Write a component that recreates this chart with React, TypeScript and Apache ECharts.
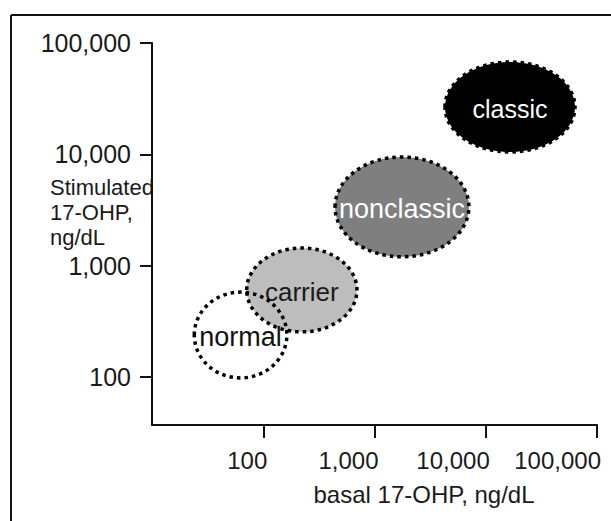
import React, { useEffect, useRef } from 'react';
import * as echarts from 'echarts';

// Regions (ng/dL): basal (x) range and stimulated (y) range of each ellipse
const regionNames = ['classic', 'nonclassic', 'carrier', 'normal'];
const basalLow = [4300, 442, 71, 24];
const basalHigh = [63400, 7060, 695, 163];
const stimLow = [10500, 1200, 254, 98];
const stimHigh = [67500, 9460, 1440, 578];

const xTickValues = [100, 1000, 10000, 100000];
const yTickValues = [100, 1000, 10000, 100000];
const xMin = 10;
const xMax = 100000;
const yMin = 37;
const yMax = 100000;

const xTitle = 'basal 17-OHP, ng/dL';
const yTitle = 'Stimulated\n17-OHP,\nng/dL';

const FONT = '"Liberation Sans", Arial, Helvetica, sans-serif';
const regionStyle: Record<string, { fill: string; text: string; size: number }> = {
  classic: { fill: '#000000', text: '#ffffff', size: 25 },
  nonclassic: { fill: '#7f7f7f', text: '#ffffff', size: 27 },
  carrier: { fill: '#bdbdbd', text: '#1a1a1a', size: 26 },
  normal: { fill: 'none', text: '#111111', size: 27 },
};

const fmt = (v: number) => Math.round(Math.pow(10, v)).toLocaleString('en-US');

export default function App() {
  const ref = useRef<HTMLDivElement>(null);
  useEffect(() => {
    if (!ref.current) return;
    const chart = echarts.init(ref.current, undefined, { renderer: 'svg' });
    const data = regionNames.map((n, i) => ({
      name: n,
      value: [
        Math.log10(basalLow[i]),
        Math.log10(basalHigh[i]),
        Math.log10(stimLow[i]),
        Math.log10(stimHigh[i]),
      ],
    }));
    const axisColor = '#111111';
    chart.setOption({
      animation: false,
      backgroundColor: '#ffffff',
      grid: { left: 152, right: 14, top: 43, bottom: 96 },
      xAxis: {
        type: 'value',
        min: Math.log10(xMin),
        max: Math.log10(xMax),
        axisLine: { show: true, onZero: false, lineStyle: { color: axisColor, width: 2 } },
        axisTick: {
          show: true,
          length: 13,
          customValues: xTickValues.map((v) => Math.log10(v)),
          lineStyle: { color: axisColor, width: 2 },
        },
        axisLabel: {
          customValues: xTickValues.map((v) => Math.log10(v)),
          formatter: fmt,
          fontSize: 24,
          fontFamily: FONT,
          color: '#1a1a1a',
          margin: 23,
          align: 'right',
          padding: [0, -4, 0, 0],
        },
        splitLine: { show: false },
      },
      yAxis: {
        type: 'value',
        min: Math.log10(yMin),
        max: Math.log10(yMax),
        axisLine: { show: true, onZero: false, lineStyle: { color: axisColor, width: 2 } },
        axisTick: {
          show: true,
          length: 12,
          customValues: yTickValues.map((v) => Math.log10(v)),
          lineStyle: { color: axisColor, width: 2 },
        },
        axisLabel: {
          customValues: yTickValues.map((v) => Math.log10(v)),
          formatter: fmt,
          fontSize: 25,
          fontFamily: FONT,
          color: '#1a1a1a',
          margin: 21,
        },
        splitLine: { show: false },
      },
      graphic: [
        { type: 'line', shape: { x1: 11, y1: 15, x2: 611, y2: 15 }, style: { stroke: '#111', lineWidth: 2 } },
        { type: 'line', shape: { x1: 11, y1: 15, x2: 11, y2: 521 }, style: { stroke: '#111', lineWidth: 2 } },
        {
          type: 'text',
          left: 50,
          top: 175,
          style: { text: yTitle, font: `22px ${FONT}`, fill: '#1a1a1a', lineHeight: 25, align: 'left' },
        },
        {
          type: 'text',
          x: 424,
          y: 494,
          style: { text: xTitle, font: `24px ${FONT}`, fill: '#1a1a1a', align: 'center', verticalAlign: 'middle' },
        },
      ],
      series: [
        {
          type: 'custom',
          coordinateSystem: 'cartesian2d',
          encode: { x: [0, 1], y: [2, 3] },
          data,
          renderItem: (params: any, api: any) => {
            const name = regionNames[params.dataIndex];
            const st = regionStyle[name];
            const p0 = api.coord([api.value(0), api.value(2)]);
            const p1 = api.coord([api.value(1), api.value(3)]);
            const cx = (p0[0] + p1[0]) / 2;
            const cy = (p0[1] + p1[1]) / 2;
            const rx = Math.abs(p1[0] - p0[0]) / 2;
            const ry = Math.abs(p1[1] - p0[1]) / 2;
            return {
              type: 'group',
              children: [
                {
                  type: 'ellipse',
                  shape: { cx, cy, rx, ry },
                  style: { fill: st.fill, stroke: '#000', lineWidth: 3.5, lineDash: [3.5, 4] },
                },
                {
                  type: 'text',
                  style: {
                    x: cx,
                    y: cy + 2,
                    text: name,
                    fill: st.text,
                    font: `${st.size}px ${FONT}`,
                    align: 'center',
                    verticalAlign: 'middle',
                  },
                },
              ],
            };
          },
        },
      ],
    });
    return () => chart.dispose();
  }, []);
  return <div ref={ref} style={{ position: 'fixed', left: 0, top: 0, width: 611, height: 521 }} />;
}
